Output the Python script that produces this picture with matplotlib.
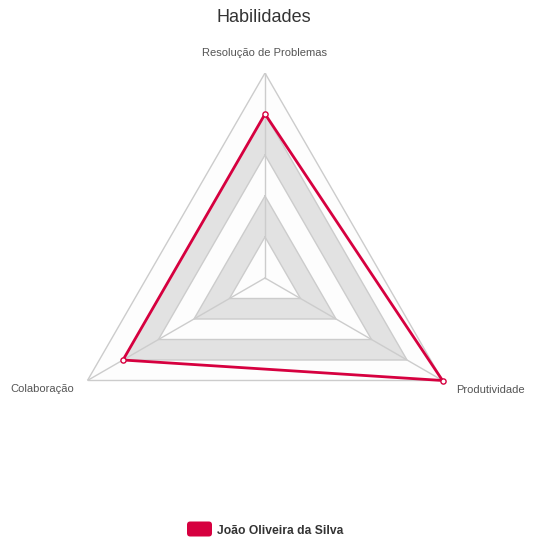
import numpy as np
import matplotlib.pyplot as plt
from matplotlib.patches import FancyBboxPatch

plt.rcParams['font.family'] = ['Liberation Sans', 'DejaVu Sans']

skills = ["Resolução de Problemas", "Colaboração", "Produtividade"]
values = [80, 80, 100]
max_value = 100
split_number = 5
person = "João Oliveira da Silva"

color = "#d6003f"
grid_color = "#cccccc"
band_colors = ["#fdfdfd", "#e2e2e2"]

fig = plt.figure(figsize=(5.35, 5.46), dpi=100)
ax = fig.add_axes([60 / 535, 63 / 546, 410 / 535, 410 / 546], projection="polar")
ax.set_theta_offset(np.pi / 2)
ax.set_ylim(0, max_value)
ax.grid(False)
ax.spines["polar"].set_visible(False)
ax.set_xticks([])
ax.set_yticks([])
ax.patch.set_alpha(0)

angles = np.linspace(0, 2 * np.pi, len(skills), endpoint=False)
closed = np.append(angles, angles[0])

# alternating split areas, biggest first
levels = np.linspace(max_value / split_number, max_value, split_number)
for i, r in reversed(list(enumerate(levels))):
    ax.fill(closed, [r] * len(closed), color=band_colors[i % 2], zorder=1, lw=0)
for r in levels:
    ax.plot(closed, [r] * len(closed), color=grid_color, lw=1, zorder=2)
for a in angles:
    ax.plot([a, a], [0, max_value], color=grid_color, lw=1, zorder=2)

# series
ax.plot(closed, values + values[:1], color=color, lw=2, zorder=4, clip_on=False)
ax.scatter(angles, values, s=14, facecolor="white", edgecolor=color, lw=1, zorder=5,
           clip_on=False)

# axis names
offsets = [(0, 20, "center"), (-13, -9, "right"), (14, -9, "left")]
for a, name, (dx, dy, ha) in zip(angles, skills, offsets):
    ax.annotate(name, (a, max_value), xytext=(dx, dy), textcoords="offset pixels",
                ha=ha, va="center", fontsize=8, color="#555555", annotation_clip=False)

fig.text(264 / 535, 1 - 18 / 546, "Habilidades", ha="center", va="center",
         fontsize=13, color="#333333")

# legend
fig.patches.append(FancyBboxPatch((187 / 535, 1 - 536.5 / 546), 25 / 535, 15 / 546,
                                  boxstyle="round,pad=0,rounding_size=0.006",
                                  transform=fig.transFigure, fc=color, ec="none"))
fig.text(217 / 535, 1 - 530.5 / 546, person, ha="left", va="center",
         fontsize=8.7, fontweight="bold", color="#333333")

fig.savefig("out.png", dpi=100)
